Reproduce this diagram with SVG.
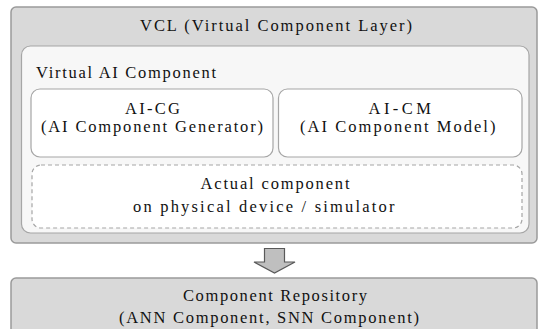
<svg xmlns="http://www.w3.org/2000/svg" width="541" height="329" viewBox="0 0 541 329">
  <style>
    .layer { fill: #d9d9d9; stroke: #9a9a9a; stroke-width: 1.5; }
    .panel { fill: #f7f7f7; stroke: #a6a6a6; stroke-width: 1.2; }
    .box { fill: #ffffff; stroke: #a6a6a6; stroke-width: 1.2; }
    .dash { fill: #ffffff; stroke: #a6a6a6; stroke-width: 1.2; stroke-dasharray: 4 3; }
    .flow { fill: #bfbfbf; stroke: #595959; stroke-width: 1.2; stroke-linejoin: miter; }
    text { font-family: "Liberation Serif", "Times New Roman", serif; font-size: 16.5px; fill: #111111; }
  </style>

  <!-- Virtual Component Layer -->
  <g id="vcl">
    <rect class="layer" x="11" y="7" width="526" height="236" rx="5"/>
    <text x="140" y="30.5" textLength="272" lengthAdjust="spacing">VCL (Virtual Component Layer)</text>
  </g>

  <!-- Virtual AI Component panel -->
  <g id="virtual-ai-component">
    <rect class="panel" x="21.5" y="46" width="507.5" height="187" rx="9"/>
    <text x="36" y="78" textLength="180" lengthAdjust="spacing">Virtual AI Component</text>
  </g>

  <g id="ai-cg">
    <rect class="box" x="31" y="89" width="242" height="68" rx="9"/>
    <text x="125" y="114" textLength="55" lengthAdjust="spacing">AI-CG</text>
    <text x="41" y="132" textLength="222" lengthAdjust="spacing">(AI Component Generator)</text>
  </g>

  <g id="ai-cm">
    <rect class="box" x="278.5" y="89" width="243.5" height="68" rx="9"/>
    <text x="368.5" y="114" textLength="62.5" lengthAdjust="spacing">AI-CM</text>
    <text x="300" y="132" textLength="195.5" lengthAdjust="spacing">(AI Component Model)</text>
  </g>

  <g id="actual-component">
    <rect class="dash" x="32" y="165" width="490" height="63" rx="9"/>
    <text x="200.5" y="189" textLength="149" lengthAdjust="spacing">Actual component</text>
    <text x="133" y="212" textLength="261.5" lengthAdjust="spacing">on physical device / simulator</text>
  </g>

  <!-- Block arrow from the layer down to the repository -->
  <g id="connectors">
    <polygon class="flow" points="264.5,248.5 284.5,248.5 284.5,262 295,262 274.5,273 254,262 264.5,262"/>
  </g>

  <g id="component-repository">
    <rect class="layer" x="11" y="278" width="526" height="70" rx="5"/>
    <text x="183" y="301" textLength="184" lengthAdjust="spacing">Component Repository</text>
    <text x="119" y="323" textLength="300" lengthAdjust="spacing">(ANN Component, SNN Component)</text>
  </g>
</svg>
